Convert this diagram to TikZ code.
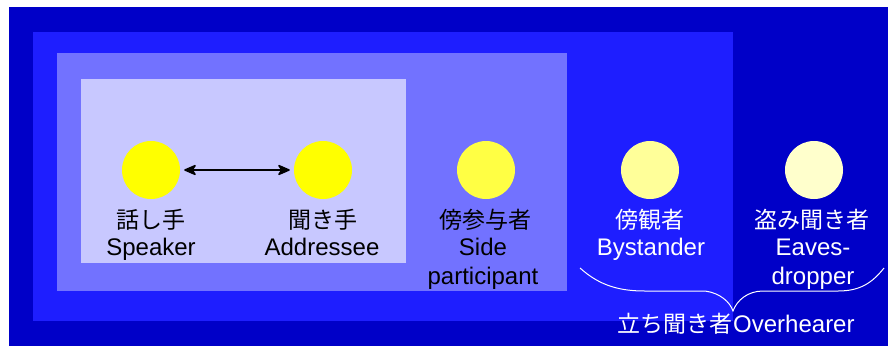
\documentclass[tikz,border=0pt]{standalone}
\usepackage{fontspec}
\setmainfont{Liberation Sans}
\newfontfamily\jp{Noto Sans CJK JP}
\usetikzlibrary{arrows.meta}
\definecolor{bgA}{HTML}{0000C8}
\definecolor{bgB}{HTML}{1E1EFF}
\definecolor{bgC}{HTML}{7272FF}
\definecolor{bgD}{HTML}{C8C8FF}
\definecolor{dotA}{HTML}{FFFF00}
\definecolor{dotB}{HTML}{FFFF44}
\definecolor{dotC}{HTML}{FFFF99}
\definecolor{dotD}{HTML}{FFFFCC}
\begin{document}
\begin{tikzpicture}[x=1pt,y=-1pt,
  person/.style={circle,minimum size=58pt,inner sep=0pt,draw=none},
  jtxt/.style={anchor=base,inner sep=0pt,font=\jp\fontsize{23}{23}\selectfont},
  etxt/.style={anchor=base,inner sep=0pt,font=\fontsize{24}{24}\selectfont},
  tip/.style={},
  talk/.style={{Stealth[length=14pt,width=12pt,inset=4pt,round]}-{Stealth[length=14pt,width=12pt,inset=4pt,round]},line width=1.5pt,shorten <=4pt,shorten >=4pt},
  brace/.style={draw=white,line width=1pt}]
\useasboundingbox (0,0) rectangle (890,346);
\fill[white] (0,0) rectangle (890,346);
\fill[bgA] (9,7) rectangle (888,346);
\fill[bgB] (33,32) rectangle (733,321);
\fill[bgC] (57,53) rectangle (567,291);
\fill[bgD] (81,79) rectangle (406,263);

\node[person,fill=dotA] (spk) at (151,170) {};
\node[person,fill=dotA] (adr) at (323,170) {};
\node[person,fill=dotB] (side) at (486,170) {};
\node[person,fill=dotC] (bys) at (650,170) {};
\node[person,fill=dotD] (eav) at (814,170) {};

\draw[talk] (spk) -- (adr);

\node[jtxt] (spkj) at (151,228) {話し手};
\node[etxt] (spke) at (151,255) {Speaker};
\node[jtxt] (adrj) at (323,228) {聞き手};
\node[etxt] (adre) at (322,255) {Addressee};
\node[jtxt] (sidej) at (485,228) {傍参与者};
\node[etxt] (sidee) at (483,255) {Side};
\node[etxt] (sidep) at (483,284) {participant};
\node[jtxt,text=white] (bysj) at (650,228) {傍観者};
\node[etxt,text=white] (byse) at (651,255) {Bystander};
\node[jtxt,text=white] (eavj) at (812,228) {盗み聞き者};
\node[etxt,text=white] (eave) at (813,255) {Eaves-};
\node[etxt,text=white] (eavd) at (813,284) {dropper};

\coordinate (bl) at (580,268);
\coordinate (bt) at (733,311);
\coordinate (br) at (884,268);
\draw[brace] (bl) .. controls (600,286) and (620,291) .. (645,291)
  -- (705,291) .. controls (720,293) and (730,302) .. (bt)
  .. controls (737,300) and (748,291) .. (763,291)
  -- (838,291) .. controls (860,291) and (872,283) .. (br);

\node[anchor=base east,inner sep=0pt,text=white,font=\jp\fontsize{23}{23}\selectfont] (ovj) at (733,332) {立ち聞き者};
\node[anchor=base west,inner sep=0pt,text=white,font=\fontsize{24}{24}\selectfont] (ove) at (733,332) {Overhearer};
\end{tikzpicture}
\end{document}
